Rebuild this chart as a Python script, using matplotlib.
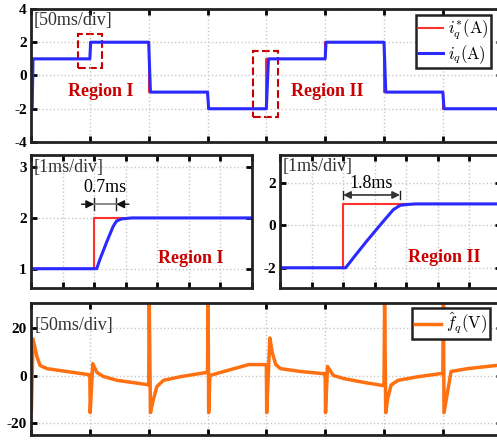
import numpy as np
import matplotlib.pyplot as plt

plt.rcParams['font.family'] = ['Liberation Serif', 'DejaVu Serif']
plt.rcParams['mathtext.fontset'] = 'cm'

# step reference i_q* over 400 ms (times in ms)
step_t = [1, 50, 100, 150, 200, 250, 300, 350]
iq_ref_levels = [-2, 1, 2, -1, -2, 1, 2, -1, -2]
# measured i_q settling time after each step (ms)
iq_delay = [0.7, 0.7, 1.5, 1.0, 1.8, 0.7, 1.5, 1.0]

# zoomed steps, 1 ms/div
zoom1_ref_t = [0, 2, 2, 7]
zoom1_ref = [1, 1, 2, 2]
zoom1_t = [0, 2.08, 2.18, 2.4, 2.6, 2.71, 2.87, 3.19, 7]
zoom1_iq = [1, 1, 1.18, 1.53, 1.83, 1.94, 1.98, 2.0, 2.0]

zoom2_ref_t = [0, 2, 2, 7]
zoom2_ref = [-2, -2, 1, 1]
zoom2_t = [0, 2.08, 2.32, 2.74, 3.27, 3.59, 3.8, 4.0, 4.3, 7]
zoom2_iq = [-2, -2, -1.54, -0.76, 0.18, 0.73, 0.93, 0.97, 1.0, 1.0]

# estimated disturbance f_q (V)
fq_t = [0, 0.3, 1.7, 5, 7.7, 13.6, 30, 48.7,
        50, 50.3, 52.5, 56, 61.5, 73, 98.5,
        100, 100.5, 101.5, 104, 107, 112.7, 127, 148,
        150, 150.5, 151, 152, 161, 185, 199,
        200, 200.3, 203, 205, 208, 212, 229, 248,
        250, 250.3, 252, 257, 266, 283, 299,
        300, 300.5, 301.5, 303, 306, 312, 329, 348,
        350, 350.5, 351, 357, 371, 395, 400]
fq = [-15.6, -15.6, 15.4, 8, 4.2, 2.9, 1.7, 0.4,
      0.2, -15.6, 5, 1.3, -0.4, -2, -3.8,
      -4, 31, -15.6, -10, -4.6, -2, -0.5, 1.2,
      1.2, 31, -15.6, 0, 1.3, 4.6, 4.6,
      4.6, -15.6, 15.8, 9.7, 4.6, 2.9, 1.7, 0.8,
      0.8, -15.6, 3.8, 0, -1.3, -2.9, -4.2,
      -4.2, 31, -15.6, -10, -4, -2, -0.5, 0.8,
      0.8, 31, -15.6, 1.7, 2.9, 4.2, 4.4]

red = '#ff3030'
blue = '#2a2aff'
orange = '#ff7010'
dark_red = '#c80000'


def style_axes(ax, xlim, xstep, ylim, yticks):
    ax.set_xlim(xlim)
    ax.set_ylim(ylim)
    ax.set_xticks(np.arange(xlim[0], xlim[1] + 0.01, xstep))
    ax.set_yticks(yticks)
    ax.set_xticklabels([])
    ax.set_yticklabels([str(v) for v in yticks], fontweight='bold', fontsize=11)
    ax.tick_params(direction='in', length=4, width=2, top=True, right=True, pad=3)
    ax.grid(True, linestyle=':', color='#c8c8c8', linewidth=1)
    for s in ax.spines.values():
        s.set_linewidth(2)
        s.set_color('#222222')


fig = plt.figure(figsize=(4.97, 4.40), dpi=100)

# top: 50 ms/div overview
ax0 = fig.add_axes([0.0624, 0.6773, 0.947, 0.3023])
ref_t = [0]
ref_v = [iq_ref_levels[0]]
iq_t = [0]
iq_v = [iq_ref_levels[0]]
for k, t in enumerate(step_t):
    ref_t += [t, t]
    ref_v += [iq_ref_levels[k], iq_ref_levels[k + 1]]
    iq_t += [t, t + iq_delay[k]]
    iq_v += [iq_ref_levels[k], iq_ref_levels[k + 1]]
ref_t.append(400)
ref_v.append(iq_ref_levels[-1])
iq_t.append(400)
iq_v.append(iq_ref_levels[-1])
ax0.plot(ref_t, ref_v, color=red, lw=1.5, label=r'$i_q^{*}(\mathrm{A})$')
ax0.plot(iq_t, iq_v, color=blue, lw=2.2, label=r'$i_q(\mathrm{A})$')
style_axes(ax0, (0, 400), 50, (-4, 4), [-4, -2, 0, 2, 4])
ax0.add_patch(plt.Rectangle((40, 0.45), 20.5, 2.05, fill=False, ls='--',
                            lw=1.5, ec=dark_red))
ax0.add_patch(plt.Rectangle((189, -2.5), 21, 3.97, fill=False, ls='--',
                            lw=1.5, ec=dark_red))
ax0.text(59, -0.95, 'Region I', color=dark_red, fontweight='bold',
         fontsize=13, ha='center', va='center')
ax0.text(252, -0.95, 'Region II', color=dark_red, fontweight='bold',
         fontsize=13, ha='center', va='center')
ax0.text(2, 3.3, '[50ms/div]', fontsize=13, color='#333333', va='center')
leg = ax0.legend(loc='upper right', bbox_to_anchor=(0.978, 0.955), fontsize=12,
                 handlelength=1.5, handletextpad=0.3, borderpad=0.15,
                 labelspacing=0.1, fancybox=False, framealpha=1,
                 edgecolor='#222222', borderaxespad=0)
leg.get_frame().set_linewidth(1.8)

# middle left: Region I zoom
ax1 = fig.add_axes([0.0624, 0.3455, 0.4447, 0.3023])
ax1.plot(zoom1_ref_t, zoom1_ref, color=red, lw=1.5)
ax1.plot(zoom1_t, zoom1_iq, color=blue, lw=2.2)
style_axes(ax1, (0, 7), 1, (0.62, 3.24), [1, 2, 3])
ax1.text(0.08, 3.0, '[1ms/div]', fontsize=13, color='#333333', va='center')
ax1.plot([2, 2], [2.16, 2.39], color='#222222', lw=1)
ax1.plot([2.7, 2.7], [2.16, 2.39], color='#222222', lw=1)
ax1.annotate('', xy=(2, 2.27), xytext=(1.6, 2.27),
             arrowprops=dict(arrowstyle='-|>', color='#111111', lw=1,
                             mutation_scale=12, shrinkA=0, shrinkB=0))
ax1.annotate('', xy=(2.7, 2.27), xytext=(3.1, 2.27),
             arrowprops=dict(arrowstyle='-|>', color='#111111', lw=1,
                             mutation_scale=12, shrinkA=0, shrinkB=0))
ax1.plot([2, 2.7], [2.27, 2.27], color='#777777', lw=1.2)
ax1.text(2.35, 2.6, '0.7ms', fontsize=13, ha='center', va='center')
ax1.text(5.05, 1.2, 'Region I', color=dark_red, fontweight='bold',
         fontsize=13, ha='center', va='center')

# middle right: Region II zoom
ax2 = fig.add_axes([0.5634, 0.3455, 0.4447, 0.3023])
ax2.plot(zoom2_ref_t, zoom2_ref, color=red, lw=1.5)
ax2.plot(zoom2_t, zoom2_iq, color=blue, lw=2.2)
style_axes(ax2, (0, 7), 1, (-2.95, 3.3), [-2, 0, 2])
ax2.text(0.08, 2.75, '[1ms/div]', fontsize=13, color='#333333', va='center')
ax2.plot([2, 2], [1.22, 1.62], color='#222222', lw=1)
ax2.plot([3.8, 3.8], [1.22, 1.62], color='#222222', lw=1)
ax2.annotate('', xy=(2, 1.42), xytext=(3.8, 1.42),
             arrowprops=dict(arrowstyle='<|-|>', color='#333333', lw=1.2,
                             mutation_scale=11, shrinkA=0, shrinkB=0))
ax2.text(2.9, 1.95, '1.8ms', fontsize=13, ha='center', va='center')
ax2.text(5.2, -1.5, 'Region II', color=dark_red, fontweight='bold',
         fontsize=13, ha='center', va='center')

# bottom: disturbance estimate
ax3 = fig.add_axes([0.0624, 0.0114, 0.947, 0.3])
ax3.plot(fq_t, fq, color=orange, lw=2.5, label=r'$\hat{f}_q(\mathrm{V})$')
style_axes(ax3, (0, 400), 50, (-25, 30.5), [-20, 0, 20])
ax3.text(3, 21, '[50ms/div]', fontsize=13, color='#333333', va='center')
leg3 = ax3.legend(loc='upper right', bbox_to_anchor=(0.975, 0.96), fontsize=12,
                  handlelength=1.6, handletextpad=0.3, borderpad=0.15,
                  fancybox=False, framealpha=1, edgecolor='#222222', borderaxespad=0)
leg3.get_frame().set_linewidth(1.8)

fig.savefig('out.png', dpi=100)
